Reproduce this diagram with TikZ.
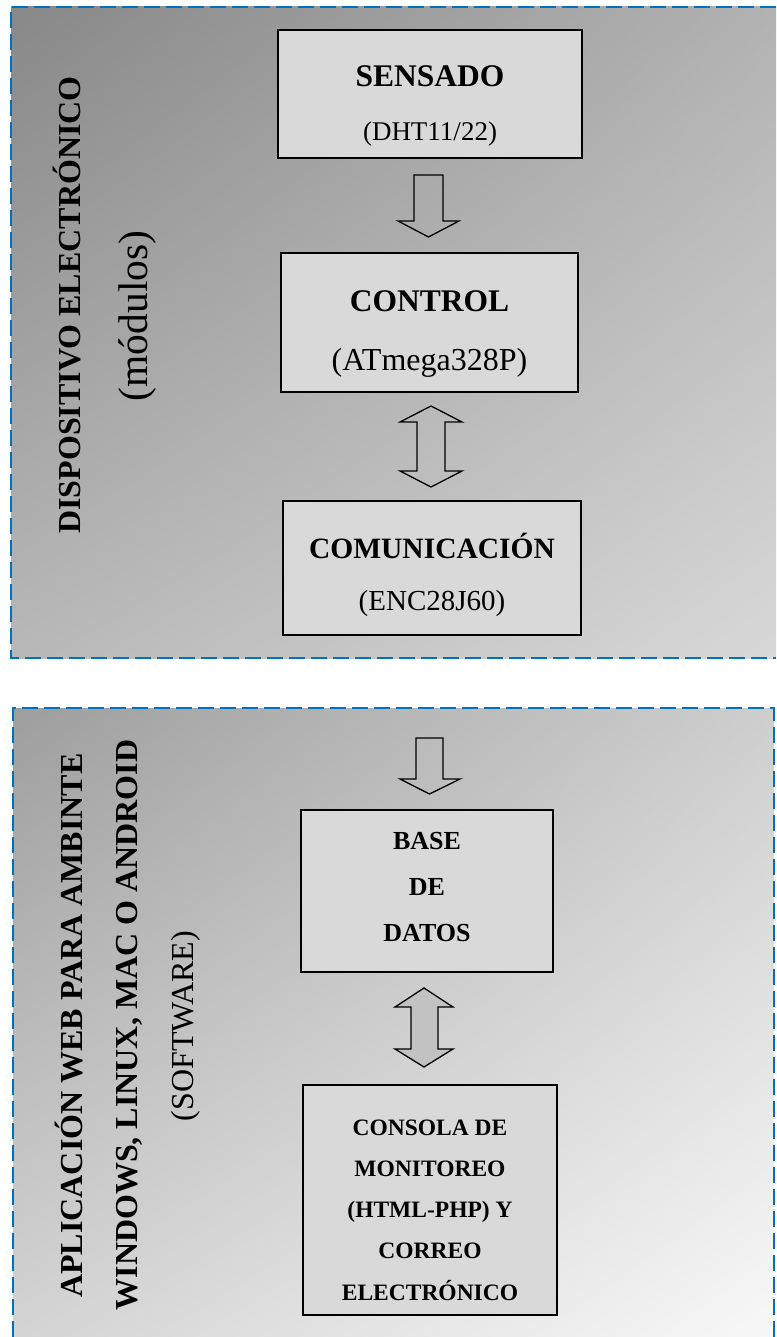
\documentclass[tikz,border=0pt]{standalone}
\usepackage{fontspec}
\usetikzlibrary{shadings}
\setmainfont{Liberation Serif}
\definecolor{dashblue}{HTML}{0070C0}
\definecolor{boxfill}{HTML}{D9D9D9}
\definecolor{arrfill}{HTML}{C2C2C2}
\definecolor{tUL}{HTML}{888888}
\definecolor{tUR}{HTML}{B2B2B2}
\definecolor{tLL}{HTML}{B8B8B8}
\definecolor{tLR}{HTML}{D8D8D8}
\definecolor{bUL}{HTML}{9E9E9E}
\definecolor{bUR}{HTML}{CECECE}
\definecolor{bLL}{HTML}{D4D4D4}
\definecolor{bLR}{HTML}{F8F8F8}
\tikzset{
  panelline/.style={draw=dashblue, line width=2pt, dash pattern=on 16pt off 6pt},
  blockbox/.style={draw=black, line width=1.6pt, fill=boxfill, inner sep=0pt},
  blockarrow/.style={draw=black, line width=1.3pt, line join=miter},
  ttl/.style={font=\bfseries\fontsize{31.5}{36}\selectfont, anchor=base, inner sep=0pt},
  sub/.style={anchor=base, inner sep=0pt},
  sidebold/.style={font=\bfseries\fontsize{32}{36}\selectfont, rotate=90, anchor=base, inner sep=0pt},
  smallbold/.style={font=\bfseries\fontsize{26}{30}\selectfont, anchor=base, inner sep=0pt},
  tinybold/.style={font=\bfseries\fontsize{23.5}{28}\selectfont, anchor=base, inner sep=0pt}
}
\begin{document}
\begin{tikzpicture}[x=1pt,y=-1pt]
\useasboundingbox (0,0) rectangle (776,1337);
% panels
\shade[upper left=tUL, upper right=tUR, lower left=tLL, lower right=tLR]
  (11,7) rectangle (776,658);
\draw[panelline] (776,7) -- (11,7) -- (11,658) -- (776,658);
\shade[upper left=bUL, upper right=bUR, lower left=bLL, lower right=bLR]
  (13,708) rectangle (773.5,1337);
\draw[panelline] (13,1337) -- (13,708) -- (773.5,708) -- (773.5,1337);

% side texts, top panel
\node[sidebold] (disp) at (80,305) {DISPOSITIVO ELECTRÓNICO};
\node[rotate=90, anchor=base, inner sep=0pt, font=\fontsize{41.5}{46}\selectfont] (mod) at (147,316) {(módulos)};

% boxes, top panel
\node[blockbox, minimum width=304pt, minimum height=128pt] (sens) at (430,94) {};
\node[ttl] (sensT) at (430,87) {SENSADO};
\node[sub, font=\fontsize{27}{30}\selectfont] (sensS) at (430,141) {(DHT11/22)};

\node[blockbox, minimum width=297pt, minimum height=139pt] (ctrl) at (429.5,322.5) {};
\node[ttl] (ctrlT) at (429.5,312) {CONTROL};
\node[sub, font=\fontsize{32}{36}\selectfont] (ctrlS) at (429.5,370) {(ATmega328P)};

\node[blockbox, minimum width=298pt, minimum height=134pt] (com) at (432,568) {};
\node[ttl, font=\bfseries\fontsize{29.5}{34}\selectfont] (comT) at (432,558) {COMUNICACIÓN};
\node[sub, font=\fontsize{29}{33}\selectfont] (comS) at (432,610) {(ENC28J60)};

% block arrows, top panel
\draw[blockarrow] (414,175) -- (443,175) -- (443,221) -- (459,221) -- (428.5,237)
  -- (398,221) -- (414,221) -- cycle;
\draw[blockarrow] (431,406) -- (462,422) -- (445,422) -- (445,471) -- (462,471) -- (431,487)
  -- (400,471) -- (417,471) -- (417,422) -- (400,422) -- cycle;

% side texts, lower panel
\node[sidebold] (apl) at (82,1025.5) {APLICACIÓN WEB PARA AMBINTE};
\node[sidebold] (win) at (137,1025) {WINDOWS, LINUX, MAC O ANDROID};
\node[rotate=90, anchor=base, inner sep=0pt, font=\fontsize{32}{36}\selectfont] (soft) at (193,1026) {(SOFTWARE)};

% boxes, lower panel
\node[blockbox, minimum width=252pt, minimum height=162pt] (bd) at (427,891) {};
\node[smallbold] (bd1) at (427,849) {BASE};
\node[smallbold] (bd2) at (427,895) {DE};
\node[smallbold] (bd3) at (427,941) {DATOS};

\node[blockbox, minimum width=254pt, minimum height=230pt] (cons) at (430,1200) {};
\node[tinybold] (c1) at (430,1135) {CONSOLA DE};
\node[tinybold] (c2) at (430,1176) {MONITOREO};
\node[tinybold] (c3) at (430,1217) {(HTML-PHP) Y};
\node[tinybold] (c4) at (430,1258) {CORREO};
\node[tinybold] (c5) at (430,1300) {ELECTRÓNICO};

% block arrows, lower panel
\draw[blockarrow] (416,738) -- (443,738) -- (443,779) -- (460,779) -- (429.5,794)
  -- (400,779) -- (416,779) -- cycle;
\draw[blockarrow, fill=arrfill] (424,988) -- (453,1007) -- (438,1007) -- (438,1049) -- (453,1049) -- (424,1067)
  -- (395,1049) -- (411,1049) -- (411,1007) -- (395,1007) -- cycle;
\end{tikzpicture}
\end{document}
